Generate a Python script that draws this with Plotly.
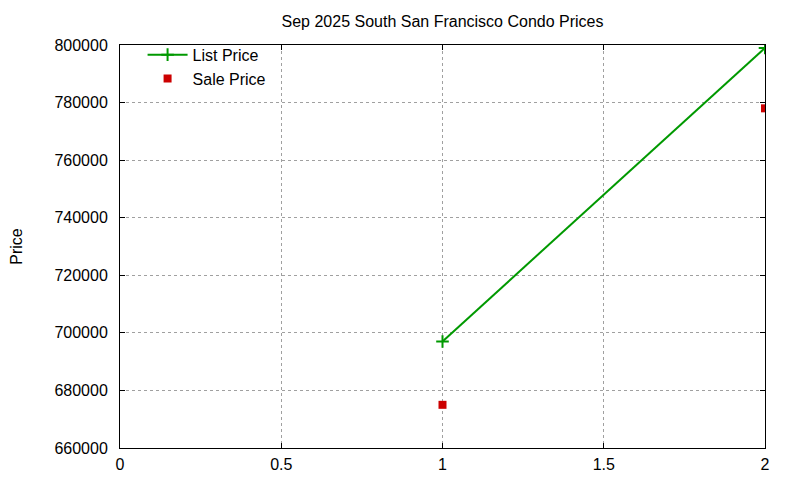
import plotly.graph_objects as go

# data
months = [1, 2]
list_price = [697000, 799000]
sale_price = [675000, 778000]

x_ticks = [0, 0.5, 1, 1.5, 2]
x_tick_text = ["0", "0.5", "1", "1.5", "2"]
y_ticks = [660000, 680000, 700000, 720000, 740000, 760000, 780000, 800000]
y_tick_text = [str(v) for v in y_ticks]

font = dict(family="Liberation Sans, Arial, sans-serif", size=16, color="#000000")

fig = go.Figure()
fig.add_trace(go.Scatter(
    name="List Price",
    x=months,
    y=list_price,
    mode="lines+markers",
    line=dict(color="#009900", width=2),
    marker=dict(symbol="cross-thin", size=9, line=dict(color="#009900", width=2)),
))
fig.add_trace(go.Scatter(
    name="Sale Price",
    x=months,
    y=sale_price,
    mode="markers",
    marker=dict(symbol="square", size=8, color="#cc0000"),
))

axis_common = dict(
    showline=True, linecolor="#000000", linewidth=1, mirror="ticks",
    ticks="inside", ticklen=5, tickcolor="#000000",
    showgrid=True, gridcolor="#a0a0a0", griddash="dot", gridwidth=1,
    zeroline=False, tickfont=font, automargin=False,
)

fig.update_layout(
    width=800, height=480,
    paper_bgcolor="#ffffff", plot_bgcolor="#ffffff",
    margin=dict(l=112, r=43, t=37, b=40),
    font=font,
    title=dict(text="Sep 2025 South San Francisco Condo Prices",
               xref="paper", x=0.5, xanchor="center", y=0.972, yanchor="middle",
               font=font),
    xaxis=dict(axis_common, range=[0, 2], tickvals=x_ticks, ticktext=x_tick_text,
               ticklabelstandoff=2),
    yaxis=dict(axis_common, range=[660000, 800000], tickvals=y_ticks, ticktext=y_tick_text,
               ticklabelstandoff=8,
               title=dict(text="Price", standoff=38, font=font)),
    showlegend=True,
    legend=dict(x=0.035, y=1.018, xanchor="left", yanchor="top",
                bgcolor="rgba(0,0,0,0)", font=font, tracegroupgap=0,
                itemwidth=40),
)

fig.write_html("out.html")
